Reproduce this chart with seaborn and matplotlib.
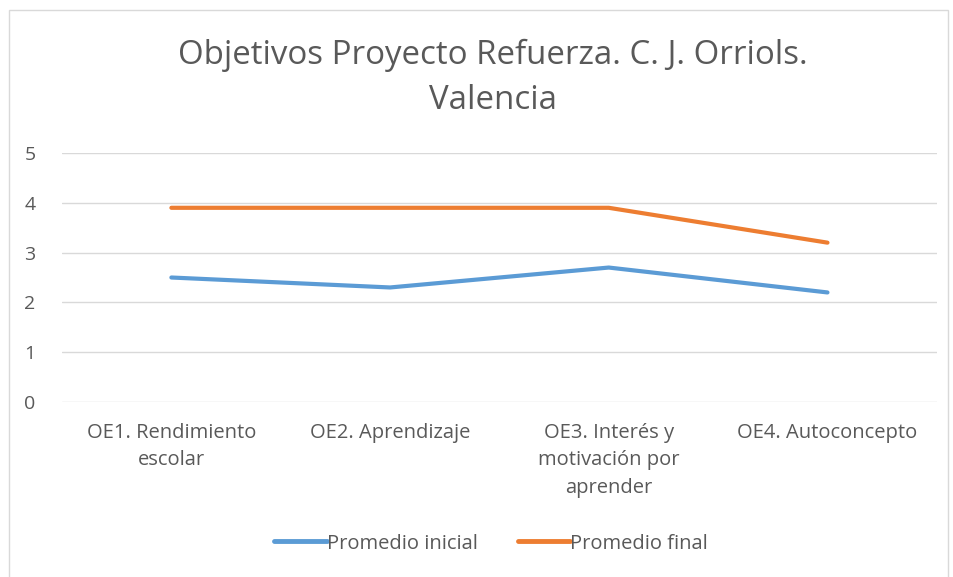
"""
Objetivos Proyecto Refuerza - line chart recreation
"""

import pandas as pd
import matplotlib.pyplot as plt
from matplotlib.patches import Rectangle
import seaborn as sns

# Data
categories = ['OE1. Rendimiento\nescolar', 'OE2. Aprendizaje',
              'OE3. Interés y\nmotivación por\naprender', 'OE4. Autoconcepto']
promedio_inicial = [2.5, 2.3, 2.7, 2.2]
promedio_final = [3.9, 3.9, 3.9, 3.2]
series_names = ['Promedio inicial', 'Promedio final']
colors = ['#5B9BD5', '#ED7D31']

df = pd.DataFrame({
    'pos': list(range(len(categories))) * 2,
    'valor': promedio_inicial + promedio_final,
    'serie': [series_names[0]] * len(categories) + [series_names[1]] * len(categories),
})

sns.set_style('white')
plt.rcParams['font.family'] = ['Open Sans', 'DejaVu Sans']
text_gray = '#595959'

fig = plt.figure(figsize=(9.54, 5.77), dpi=100)
ax = fig.add_axes([0.065, 0.3033, 0.917, 0.4315])

sns.lineplot(data=df, x='pos', y='valor', hue='serie', palette=colors,
             linewidth=3, ax=ax, legend=False, solid_capstyle='round')

ax.set_xlim(-0.5, len(categories) - 0.5)
ax.set_ylim(0, 5)
ax.set_yticks(range(0, 6))
ax.set_xticks(range(len(categories)))
ax.set_xticklabels(categories, fontsize=14.5, color=text_gray, linespacing=1.5)
ax.tick_params(axis='y', labelsize=14, labelcolor=text_gray, length=0, pad=19)
ax.tick_params(axis='x', length=0, pad=15)
ax.grid(axis='y', color='#d9d9d9', linewidth=1)
ax.set_axisbelow(True)
for s in ax.spines.values():
    s.set_visible(False)
ax.set_xlabel('')
ax.set_ylabel('')

fig.text(0.517, 0.865, 'Objetivos Proyecto Refuerza. C. J. Orriols.\nValencia',
         ha='center', va='center', fontsize=23.8, color=text_gray,
         linespacing=1.45)

# Legend built from the series
handles = [plt.Line2D([], [], color=c, linewidth=3.5) for c in colors]
fig.legend(handles, series_names, loc='center', bbox_to_anchor=(0.515, 0.058),
           ncol=2, frameon=False, fontsize=14.5, labelcolor=text_gray,
           handlelength=2.6, handletextpad=0.0, columnspacing=2.0)

# chart area border
fig.patches.append(Rectangle((0.009, -0.01), 0.985, 0.993, transform=fig.transFigure,
                             fill=False, edgecolor='#d9d9d9', linewidth=1))

fig.savefig('out.png', dpi=100)
